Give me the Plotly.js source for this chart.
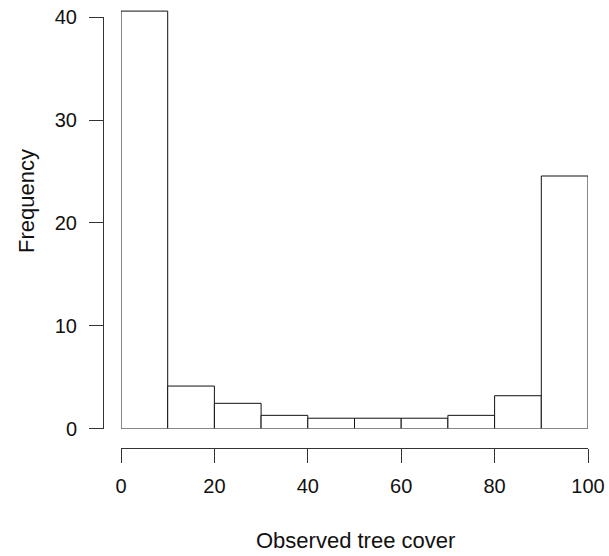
<!DOCTYPE html>
<html>
<head>
<meta charset="utf-8">
<script src="https://cdn.plot.ly/plotly-3.0.1.min.js"></script>
<style>html,body{margin:0;padding:0;background:#fff;}#chart{width:609px;height:556px;}</style>
</head>
<body>
<div id="chart"></div>
<script>
// Histogram bins (tree cover %) and frequencies
var binStarts = [0, 10, 20, 30, 40, 50, 60, 70, 80, 90];
var binWidth = 10;
var frequencies = [40.6, 4.13, 2.45, 1.28, 1.0, 1.0, 1.0, 1.28, 3.19, 24.56];
var xTicks = [0, 20, 40, 60, 80, 100];
var yTicks = [0, 10, 20, 30, 40];
var xLabel = "Observed tree cover";
var yLabel = "Frequency";

var centers = binStarts.map(function (s) { return s + binWidth / 2; });
var widths = binStarts.map(function () { return binWidth; });

var font = "Liberation Sans, Arial, Helvetica, sans-serif";
var axisColor = "#333333";

var bars = {
  type: "bar",
  x: centers,
  y: frequencies,
  width: widths,
  xaxis: "x",
  yaxis: "y",
  marker: { color: "#ffffff", line: { color: "#111111", width: 1 } },
  hoverinfo: "x+y"
};
// invisible helper trace so that the offset R-style y axis (y2) is drawn
var helper = {
  type: "scatter",
  mode: "markers",
  x: [xTicks[0]],
  y: [yTicks[0]],
  xaxis: "x",
  yaxis: "y2",
  marker: { opacity: 0 },
  hoverinfo: "skip",
  showlegend: false
};

var layout = {
  width: 609,
  height: 556,
  margin: { l: 103, r: 21, t: 0, b: 108, pad: 0 },
  paper_bgcolor: "#ffffff",
  plot_bgcolor: "rgba(0,0,0,0)",
  showlegend: false,
  bargap: 0,
  font: { family: font, size: 20, color: "#111111" },
  xaxis: {
    domain: [18 / 485, 1],
    range: [0, 100],
    anchor: "free",
    position: 0,
    showline: true,
    linecolor: axisColor,
    linewidth: 1,
    ticks: "outside",
    ticklen: 14,
    tickwidth: 1,
    tickcolor: axisColor,
    tickvals: xTicks,
    ticktext: xTicks.map(String),
    showgrid: false,
    zeroline: false,
    ticklabelstandoff: 6,
    tickfont: { family: font, size: 20, color: "#111111" },
    fixedrange: true
  },
  yaxis: {
    domain: [0.0435, 1],
    range: [0, 41.68],
    visible: false,
    showgrid: false,
    zeroline: false,
    fixedrange: true
  },
  yaxis2: {
    domain: [0.0435, 0.9614],
    range: [0, 40],
    anchor: "free",
    position: 0,
    showline: true,
    linecolor: axisColor,
    linewidth: 1,
    ticks: "outside",
    ticklen: 14,
    tickwidth: 1,
    tickcolor: axisColor,
    tickvals: yTicks,
    ticktext: yTicks.map(String),
    showgrid: false,
    zeroline: false,
    ticklabelstandoff: 8,
    tickfont: { family: font, size: 20, color: "#111111" },
    fixedrange: true
  },
  annotations: [
    {
      text: yLabel, xref: "paper", yref: "paper",
      x: -0.1588, y: 0.5513, xanchor: "center", yanchor: "middle",
      textangle: -90, showarrow: false,
      font: { family: font, size: 22, color: "#111111" }
    },
    {
      text: xLabel, xref: "paper", yref: "paper",
      x: 0.5216, y: -0.2054, xanchor: "center", yanchor: "middle",
      showarrow: false,
      font: { family: font, size: 22, color: "#111111" }
    }
  ]
};

Plotly.newPlot("chart", [bars, helper], layout, { displayModeBar: false, staticPlot: true });
</script>
</body>
</html>
